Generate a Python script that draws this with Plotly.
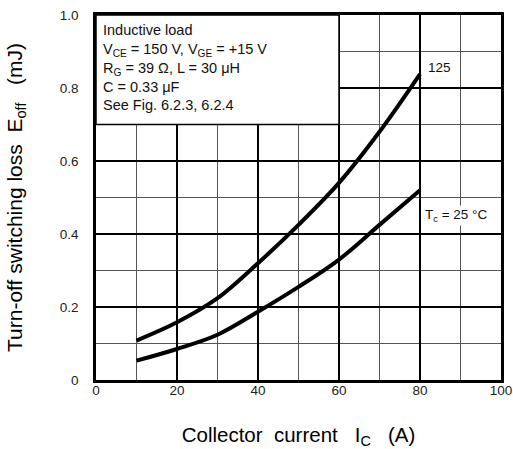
import plotly.graph_objects as go

current = [10, 20, 30, 40, 50, 60, 70, 80]
eoff_125 = [0.108, 0.158, 0.224, 0.32, 0.425, 0.54, 0.68, 0.838]
eoff_25 = [0.053, 0.085, 0.124, 0.187, 0.255, 0.33, 0.425, 0.52]

x_ticks = [0, 20, 40, 60, 80, 100]
y_ticks = [0, 0.2, 0.4, 0.6, 0.8, 1.0]
y_ticktext = ["0", "0.2", "0.4", "0.6", "0.8", "1.0"]

FONT = "Liberation Sans, Arial, sans-serif"
SP = "\u00a0"

fig = go.Figure()
for ys in (eoff_125, eoff_25):
    fig.add_trace(go.Scatter(x=current, y=ys, mode="lines",
                             line=dict(color="black", width=4, shape="spline", smoothing=1.0),
                             showlegend=False, hoverinfo="skip"))

fig.update_layout(
    width=513, height=449,
    margin=dict(l=96, r=12, t=15, b=69),
    paper_bgcolor="white", plot_bgcolor="white",
    font=dict(family=FONT, size=14, color="black"),
    xaxis=dict(range=[0, 100], tickvals=x_ticks, ticks="", ticklen=0, showline=True, mirror=True,
               linecolor="black", linewidth=2.5, showgrid=True, gridcolor="black", gridwidth=2,
               zeroline=False, tickfont=dict(size=13.5, color="#222"), automargin=False,
               ticklabelstandoff=-4,
               minor=dict(dtick=10, showgrid=True, gridcolor="#555", gridwidth=1, ticks=""),
               title=dict(text=f"Collector{SP}{SP}current{SP}{SP}{SP}I<sub>C</sub>{SP}{SP}{SP}(A)",
                          font=dict(size=20.5), standoff=31)),
    yaxis=dict(range=[0, 1.0], tickvals=y_ticks, ticktext=y_ticktext, ticks="", ticklen=0,
               showline=True, mirror=True,
               linecolor="black", linewidth=2.5, showgrid=True, gridcolor="black", gridwidth=2,
               zeroline=False, tickfont=dict(size=13.5, color="#222"), automargin=False,
               ticklabelstandoff=12,
               minor=dict(dtick=0.1, showgrid=True, gridcolor="#555", gridwidth=1, ticks=""),
               title=dict(text=f"Turn-off{SP}switching{SP}loss{SP}{SP}E<sub>off</sub>{SP}{SP}{SP}(mJ)",
                          font=dict(size=21), standoff=32)),
)

fig.add_shape(type="rect", xref="x", yref="y", x0=0, x1=60, y0=0.7, y1=1.0,
              fillcolor="white", line=dict(color="black", width=1.5), layer="above")

fig.add_annotation(xref="x", yref="y", x=1.3, y=0.985, xanchor="left", yanchor="top",
                   align="left", showarrow=False, font=dict(size=14.5, color="#111"),
                   text=("Inductive load<br>"
                         "V<sub>CE</sub> = 150 V, V<sub>GE</sub> = +15 V<br>"
                         "R<sub>G</sub> = 39 Ω, L = 30 μH<br>"
                         "C = 0.33 μF<br>"
                         "See Fig. 6.2.3, 6.2.4"))

fig.add_annotation(xref="x", yref="y", x=81.5, y=0.855, xanchor="left", yanchor="middle",
                   showarrow=False, font=dict(size=13.5, color="#111"), text="125")
fig.add_annotation(xref="x", yref="y", x=80.8, y=0.45, xanchor="left", yanchor="middle",
                   showarrow=False, font=dict(size=13.5, color="#111"), bgcolor="white", borderpad=1,
                   text="T<sub>c</sub> = 25 °C")

fig.write_html("out.html", config={"displayModeBar": False},
               post_script="document.body.style.margin='0';")
